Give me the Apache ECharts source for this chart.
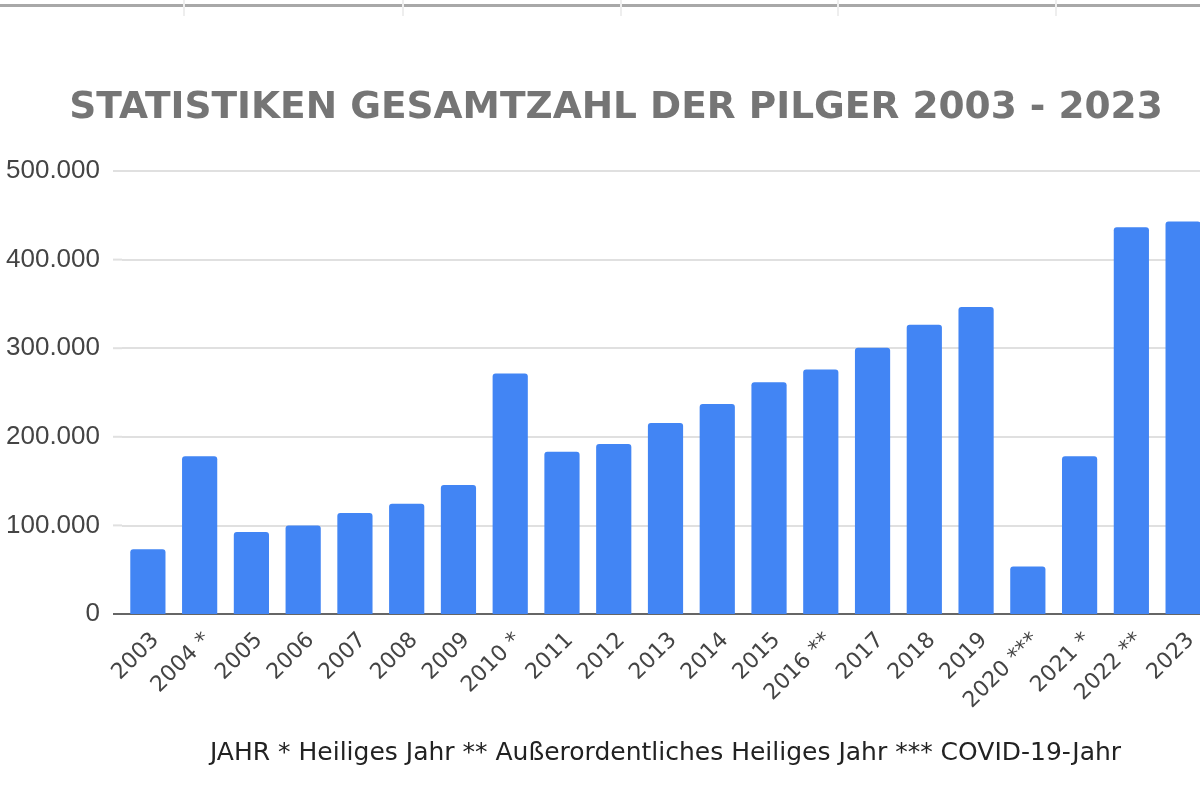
<!DOCTYPE html>
<html>
<head>
<meta charset="utf-8">
<script src="https://cdn.jsdelivr.net/npm/echarts@6/dist/echarts.min.js"></script>
<style>
html,body{margin:0;padding:0;background:#fff;}
#chart{width:1200px;height:800px;}
</style>
</head>
<body>
<div id="chart"></div>
<script>
const categories = ['2003','2004 *','2005','2006','2007','2008','2009','2010 *','2011','2012','2013','2014','2015','2016 **','2017','2018','2019','2020 ***','2021 *','2022 **','2023'];
const pilgrims = [73000,178000,92500,100000,114000,124500,145500,271500,183000,192000,215500,237000,261500,276000,300500,326500,346500,53500,178000,436500,443000];
const yTicks = [0,100000,200000,300000,400000,500000];
const titleText = 'STATISTIKEN GESAMTZAHL DER PILGER 2003 - 2023';
const axisName = 'JAHR * Heiliges Jahr ** Außerordentliches Heiliges Jahr *** COVID-19-Jahr';

const chart = echarts.init(document.getElementById('chart'));
const fmt = v => v === 0 ? '0' : String(v).replace(/\B(?=(\d{3})+(?!\d))/g, '.');
const gridTop = 171, gridH = 443, gridLeft = 122;
const stubs = yTicks.map((t, i) => ({
  type: 'line',
  shape: {x1: 113, y1: gridTop + gridH - gridH * t / 500000, x2: gridLeft, y2: gridTop + gridH - gridH * t / 500000},
  style: {stroke: i === 0 ? '#666' : '#e0e0e0', lineWidth: 2}
}));
chart.setOption({
  animation: false,
  title: {
    text: titleText,
    left: 611, top: 84, textAlign: 'center',
    textStyle: {fontFamily: 'DejaVu Sans', fontSize: 37.5, fontWeight: 'bold', color: '#757575'}
  },
  grid: {left: gridLeft, top: gridTop, width: 1087, height: gridH, outerBoundsMode: 'none', containLabel: false},
  xAxis: {
    type: 'category', data: categories,
    axisTick: {show: false},
    axisLine: {lineStyle: {color: '#666', width: 2}},
    axisLabel: {rotate: 45, interval: 0, fontFamily: 'DejaVu Sans', fontSize: 22, color: '#444', margin: 15, verticalAlign: 'top'},
    name: axisName, nameLocation: 'middle', nameGap: 127,
    nameTextStyle: {fontFamily: 'DejaVu Sans', fontSize: 25, color: '#222'}
  },
  yAxis: {
    type: 'value', min: 0, max: 500000, interval: 100000,
    axisLine: {show: false}, axisTick: {show: false},
    splitLine: {lineStyle: {color: '#e0e0e0', width: 2}},
    axisLabel: {formatter: fmt, fontFamily: 'Liberation Sans, Arial, sans-serif', fontSize: 26, color: '#444', margin: 22}
  },
  series: [{
    type: 'bar', data: pilgrims, barWidth: '68%',
    itemStyle: {color: '#4285f4', borderRadius: [3,3,0,0]}
  }],
  graphic: [
    {type: 'rect', shape: {x: 0, y: 4, width: 1200, height: 3}, style: {fill: '#a8a8a8'}},
    {type: 'line', shape: {x1: 184, y1: 0, x2: 184, y2: 16}, style: {stroke: '#eeeeee', lineWidth: 2}},
    {type: 'line', shape: {x1: 403, y1: 0, x2: 403, y2: 16}, style: {stroke: '#eeeeee', lineWidth: 2}},
    {type: 'line', shape: {x1: 621, y1: 0, x2: 621, y2: 16}, style: {stroke: '#eeeeee', lineWidth: 2}},
    {type: 'line', shape: {x1: 838, y1: 0, x2: 838, y2: 16}, style: {stroke: '#eeeeee', lineWidth: 2}},
    {type: 'line', shape: {x1: 1056, y1: 0, x2: 1056, y2: 16}, style: {stroke: '#eeeeee', lineWidth: 2}}
  ].concat(stubs)
});
</script>
</body>
</html>
